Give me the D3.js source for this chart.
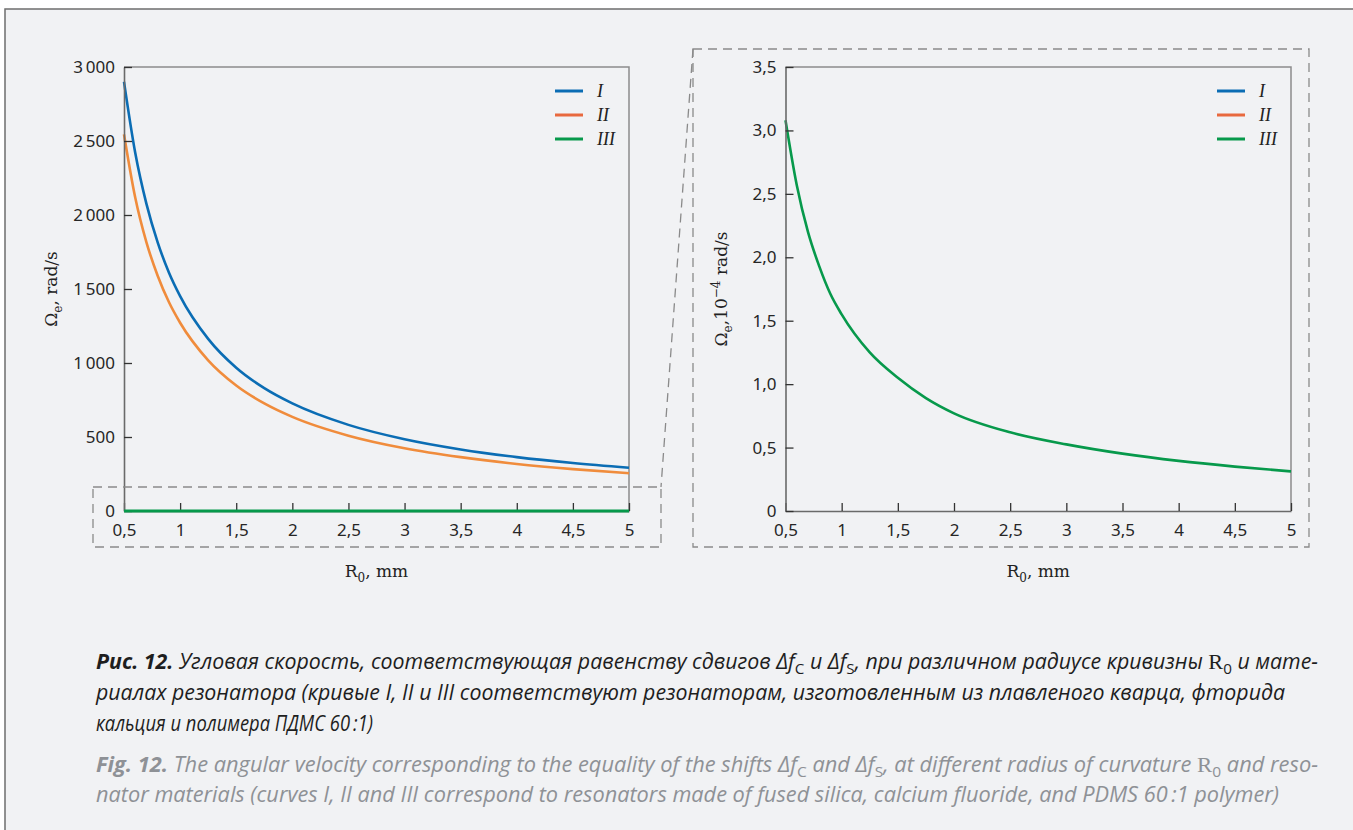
<!DOCTYPE html>
<html>
<head>
<meta charset="utf-8">
<script src="https://cdn.jsdelivr.net/npm/d3@7"></script>
<style>
  body { margin: 0; background: #ffffff; }
  svg { display: block; }
</style>
</head>
<body>
<script>
// Values
const rValues = [0.5, 0.6, 0.7, 0.8, 0.9, 1.0, 1.25, 1.5, 1.75, 2.0, 2.5, 3.0, 3.5, 4.0, 4.5, 5.0];
const curveI = [2900, 2420, 2075, 1815, 1612, 1452, 1163, 968, 830, 727, 582, 485, 416, 364, 324, 292];
const curveII = [2545, 2118, 1815, 1590, 1412, 1272, 1018, 848, 727, 636, 509, 424, 364, 318, 283, 255];
// curve III in units of 1e-4 rad/s
const curveIII = [3.08, 2.57, 2.2, 1.93, 1.71, 1.55, 1.25, 1.05, 0.89, 0.77, 0.62, 0.525, 0.452, 0.395, 0.35, 0.312];

const seriesNames = ["I", "II", "III"];
const lineColors = ["#0b6db4", "#f08c3c", "#07994b"];
const legendColors = ["#0b6db4", "#e8693e", "#07994b"];

const xTicks = [0.5, 1, 1.5, 2, 2.5, 3, 3.5, 4, 4.5, 5];
const xTickLabels = ["0,5", "1", "1,5", "2", "2,5", "3", "3,5", "4", "4,5", "5"];
const leftYTicks = [0, 500, 1000, 1500, 2000, 2500, 3000];
const leftYTickLabels = ["0", "500", "1\u2009000", "1\u2009500", "2\u2009000", "2\u2009500", "3\u2009000"];
const rightYTicks = [0, 0.5, 1, 1.5, 2, 2.5, 3, 3.5];
const rightYTickLabels = ["0", "0,5", "1,0", "1,5", "2,0", "2,5", "3,0", "3,5"];

const W = 1353, H = 830;
const tickFont = "'Noto Sans', 'Open Sans', sans-serif";
const serifFont = "'DejaVu Serif', 'Liberation Serif', serif";

const svg = d3.select("body").append("svg").attr("width", W).attr("height", H);

// grey panel
svg.append("rect")
  .attr("x", 5).attr("y", 9)
  .attr("width", W + 20).attr("height", H + 20)
  .attr("fill", "#f1f2f4")
  .attr("stroke", "#6e6e6e")
  .attr("stroke-width", 1.5);

function drawChart(opts) {
  const x = d3.scaleLinear().domain([0.5, 5]).range([opts.left, opts.right]);
  const y = d3.scaleLinear().domain(opts.yDomain).range([opts.bottom, opts.top]);
  const g = svg.append("g");

  // frame top/right
  g.append("path")
    .attr("d", `M${opts.left},${opts.top}H${opts.right}V${opts.bottom}`)
    .attr("fill", "none")
    .attr("stroke", "#8c8c8c")
    .attr("stroke-width", 1.5);

  const line = d3.line()
    .x((d) => x(d.r))
    .y((d) => y(d.v))
    .curve(d3.curveMonotoneX);

  // curves drawn before the axes, except the near-zero one
  opts.series.forEach((s) => {
    if (s.onTop) return;
    g.append("path")
      .datum(rValues.map((r, i) => ({ r: r, v: s.values[i] })))
      .attr("d", line)
      .attr("fill", "none")
      .attr("stroke", s.color)
      .attr("stroke-width", 2.6);
  });

  const xAxis = g.append("g")
    .attr("transform", `translate(0,${opts.bottom})`)
    .call(d3.axisBottom(x)
      .tickValues(xTicks)
      .tickFormat((d, i) => xTickLabels[i])
      .tickSizeInner(-8)
      .tickSizeOuter(0)
      .tickPadding(13));

  const yAxis = g.append("g")
    .attr("transform", `translate(${opts.left},0)`)
    .call(d3.axisLeft(y)
      .tickValues(opts.yTicks)
      .tickFormat((d, i) => opts.yTickLabels[i])
      .tickSizeInner(-8)
      .tickSizeOuter(0)
      .tickPadding(9));

  [xAxis, yAxis].forEach((a) => {
    a.select(".domain").attr("stroke", "#6a6a6a").attr("stroke-width", 1.6);
    a.selectAll(".tick line").attr("stroke", "#333").attr("stroke-width", 1.3);
    a.selectAll(".tick text")
      .attr("fill", "#262626")
      .style("font-family", tickFont)
      .style("font-size", "17px");
  });

  opts.series.forEach((s) => {
    if (!s.onTop) return;
    g.append("path")
      .datum(rValues.map((r, i) => ({ r: r, v: s.values[i] })))
      .attr("d", line)
      .attr("fill", "none")
      .attr("stroke", s.color)
      .attr("stroke-width", 2.8);
  });

  // legend
  seriesNames.forEach((name, i) => {
    const ly = opts.top + 24 + i * 24;
    g.append("line")
      .attr("x1", opts.right - 74).attr("x2", opts.right - 46)
      .attr("y1", ly).attr("y2", ly)
      .attr("stroke", legendColors[i])
      .attr("stroke-width", 3);
    g.append("text")
      .attr("x", opts.right - 32).attr("y", ly + 6)
      .style("font-family", "'Liberation Serif', serif")
      .style("font-style", "italic")
      .style("font-size", "18px")
      .attr("fill", "#222")
      .text(name);
  });

  // x label
  const xl = g.append("text")
    .attr("x", (opts.left + opts.right) / 2)
    .attr("y", opts.bottom + 66)
    .attr("text-anchor", "middle")
    .style("font-family", serifFont)
    .style("font-size", "17px")
    .attr("fill", "#222");
  xl.append("tspan").text("R");
  xl.append("tspan").attr("dy", 5).style("font-size", "12px").text("0");
  xl.append("tspan").attr("dy", -5).text(", mm");

  // y label
  const yl = g.append("text")
    .attr("transform", `translate(${opts.yLabelX},${(opts.top + opts.bottom) / 2}) rotate(-90)`)
    .attr("text-anchor", "middle")
    .style("font-family", serifFont)
    .style("font-size", "17px")
    .attr("fill", "#222");
  yl.append("tspan").text("\u03A9");
  yl.append("tspan").attr("dy", 5).style("font-size", "12px").text("e");
  if (opts.power) {
    yl.append("tspan").attr("dy", -5).text(",10");
    yl.append("tspan").attr("dy", -7).style("font-size", "12px").text("\u22124");
    yl.append("tspan").attr("dy", 7).text(" rad/s");
  } else {
    yl.append("tspan").attr("dy", -5).text(", rad/s");
  }
}

drawChart({
  left: 124, right: 629, top: 67, bottom: 511,
  yDomain: [0, 3000], yTicks: leftYTicks, yTickLabels: leftYTickLabels,
  yLabelX: 57, power: false,
  series: [
    { values: curveI, color: lineColors[0] },
    { values: curveII, color: lineColors[1] },
    { values: curveIII.map((v) => v * 1e-4), color: lineColors[2], onTop: true }
  ]
});

drawChart({
  left: 785.5, right: 1291, top: 67, bottom: 511,
  yDomain: [0, 3.5], yTicks: rightYTicks, yTickLabels: rightYTickLabels,
  yLabelX: 727, power: true,
  series: [
    { values: curveIII, color: lineColors[2] }
  ]
});

// zoom indication (dashed)
const dash = svg.append("g")
  .attr("fill", "none")
  .attr("stroke", "#8a8a8a")
  .attr("stroke-width", 1.3)
  .attr("stroke-dasharray", "9,6");
dash.append("rect").attr("x", 93).attr("y", 487).attr("width", 568).attr("height", 60);
dash.append("rect").attr("x", 693).attr("y", 49).attr("width", 616).attr("height", 498);
dash.append("line").attr("x1", 693).attr("y1", 49).attr("x2", 661).attr("y2", 487);

// caption
const capSize = "21px";
const capFont = "'Open Sans', 'Noto Sans', sans-serif";
function captionLine(yPos, len, color, parts) {
  const t = svg.append("text")
    .attr("x", 96).attr("y", yPos)
    .attr("fill", color)
    .style("font-family", capFont)
    .style("font-size", capSize)
    .style("font-style", "italic");
  if (len) t.attr("textLength", len).attr("lengthAdjust", "spacingAndGlyphs");
  parts.forEach((p) => {
    const s = t.append("tspan").text(p.t);
    if (p.bold) s.style("font-weight", "700");
    if (p.serif) s.style("font-family", "'Liberation Serif', serif").style("font-style", "normal").style("font-size", "22px");
    if (p.dy) s.attr("dy", p.dy);
    if (p.small) s.style("font-size", "15px").style("font-style", "normal");
  });
}

captionLine(669, 1222, "#1e1e1e", [
  { t: "Рис. 12.", bold: true },
  { t: " Угловая скорость, соответствующая равенству сдвигов Δf" },
  { t: "C", dy: 5, small: true },
  { t: " и Δf", dy: -5 },
  { t: "S", dy: 5, small: true },
  { t: ", при различном радиусе кривизны ", dy: -5 },
  { t: "R", serif: true },
  { t: "0", dy: 5, small: true },
  { t: " и мате-", dy: -5 }
]);
captionLine(700, 1189, "#1e1e1e", [
  { t: "риалах резонатора (кривые I, II и III соответствуют резонаторам, изготовленным из плавленого кварца, фторида" }
]);
captionLine(731, 277, "#1e1e1e", [
  { t: "кальция и полимера ПДМС 60\u2009:1)" }
]);
captionLine(772, 1222, "#8e9196", [
  { t: "Fig. 12.", bold: true },
  { t: " The angular velocity corresponding to the equality of the shifts Δf" },
  { t: "C", dy: 5, small: true },
  { t: " and Δf", dy: -5 },
  { t: "S", dy: 5, small: true },
  { t: ", at different radius of curvature ", dy: -5 },
  { t: "R", serif: true },
  { t: "0", dy: 5, small: true },
  { t: " and reso-", dy: -5 }
]);
captionLine(802, 1183, "#8e9196", [
  { t: "nator materials (curves I, II and III correspond to resonators made of fused silica, calcium fluoride, and PDMS 60\u2009:1 polymer)" }
]);
</script>
</body>
</html>
